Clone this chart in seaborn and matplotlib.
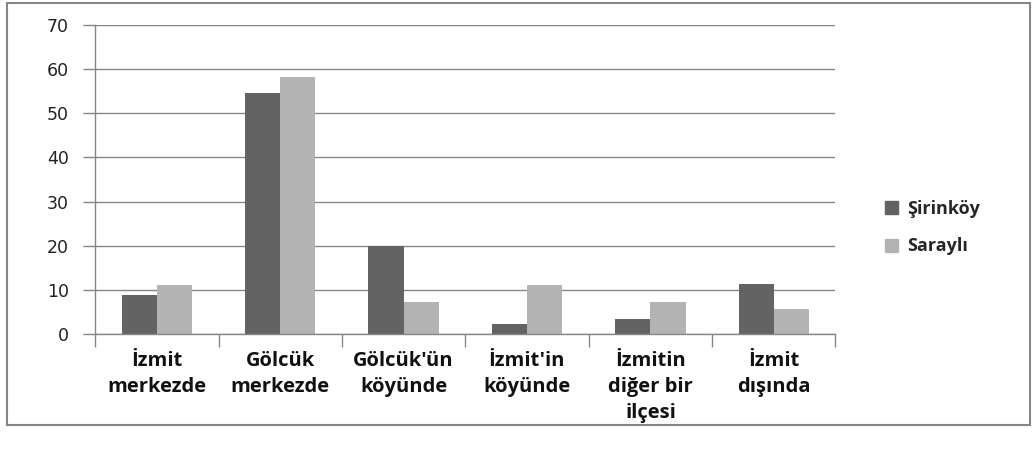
import pandas as pd
import matplotlib.pyplot as plt
import matplotlib.patches as mpatches
import seaborn as sns

# values
categories = ["İzmit\nmerkezde", "Gölcük\nmerkezde", "Gölcük'ün\nköyünde",
              "İzmit'in\nköyünde", "İzmitin\ndiğer bir\nilçesi", "İzmit\ndışında"]
sirinkoy = [8.9, 54.5, 20.0, 2.3, 3.5, 11.4]
sarayli = [11.2, 58.2, 7.3, 11.2, 7.3, 5.7]
series = ["Şirinköy", "Saraylı"]
colors = ["#636363", "#b3b3b3"]

df = pd.DataFrame({
    "Yer": categories * 2,
    "Grup": [series[0]] * len(categories) + [series[1]] * len(categories),
    "Oran": sirinkoy + sarayli,
})

sns.set_style("white")
plt.rcParams["font.family"] = ["DejaVu Sans"]

fig = plt.figure(figsize=(10.34, 4.55), dpi=100)
ax = fig.add_axes([0.092, 0.266, 0.716, 0.679])

sns.barplot(data=df, x="Yer", y="Oran", hue="Grup", order=categories,
            hue_order=series, palette=colors, width=0.57, gap=0,
            saturation=1, edgecolor="none", legend=False, ax=ax)

ax.set_ylim(0, 70)
ax.set_xlim(-0.5, len(categories) - 0.5)
ax.set_yticks(range(0, 71, 10))
ax.yaxis.grid(True, color="#868686", linewidth=1)
ax.set_axisbelow(True)
ax.set_xlabel("")
ax.set_ylabel("")

for s in ["top", "right"]:
    ax.spines[s].set_visible(False)
for s in ["left", "bottom"]:
    ax.spines[s].set_color("#868686")
    ax.spines[s].set_linewidth(1)

ax.tick_params(axis="y", length=9, width=1, color="#868686", pad=10,
               labelsize=12.5, labelcolor="#222222", direction="out", left=True)
ax.set_xticks([i - 0.5 for i in range(len(categories) + 1)], minor=True)
ax.tick_params(axis="x", which="minor", length=9, width=1, color="#868686",
               direction="out", bottom=True)
ax.tick_params(axis="x", which="major", length=0, pad=12)
for lbl in ax.get_xticklabels():
    lbl.set_family(["Open Sans", "DejaVu Sans"])
    lbl.set_fontweight("bold")
    lbl.set_fontsize(14.5)
    lbl.set_linespacing(1.4)
    lbl.set_color("#111111")

handles = [mpatches.Patch(color=c, label=s) for c, s in zip(colors, series)]
fig.legend(handles=handles, loc="center left", bbox_to_anchor=(0.84, 0.5),
           frameon=False, handlelength=0.75, handleheight=0.75,
           handletextpad=0.5, labelspacing=1.1,
           prop={"family": ["Open Sans", "DejaVu Sans"], "weight": "bold", "size": 13})

fig.patches.append(mpatches.Rectangle((0.007, 0.066), 0.989, 0.927,
                                      transform=fig.transFigure, fill=False,
                                      edgecolor="#868686", linewidth=1.5))

fig.savefig("out.png", dpi=100)
